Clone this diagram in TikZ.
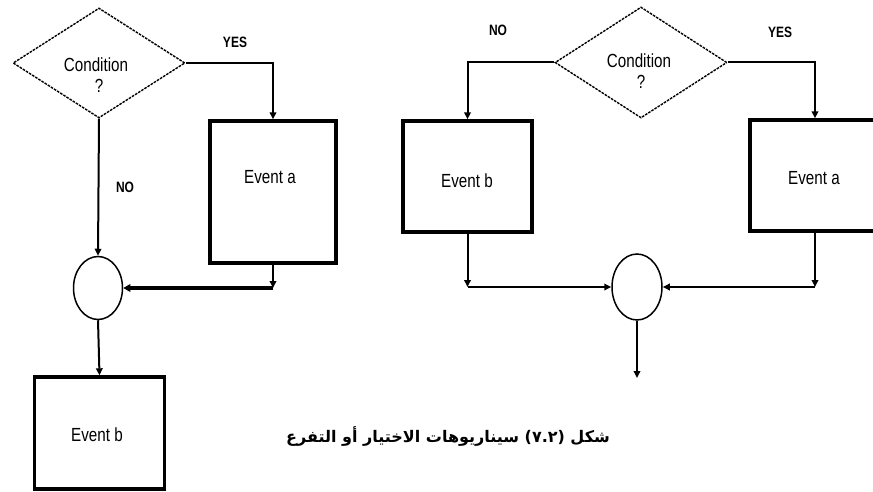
\documentclass[tikz,border=0pt]{standalone}
\usepackage{fontspec}
\setmainfont{Liberation Sans}
\newfontfamily\lblfont[FakeStretch=0.8]{Liberation Sans}
\newfontfamily\arabicfont[Script=Arabic]{DejaVu Sans}
\TeXXeTstate=1
\usetikzlibrary{arrows.meta,shapes.geometric}

\tikzset{
  decision/.style={diamond, draw, line width=1.4pt, dash pattern=on 2.6pt off 1.1pt,
    minimum width=172, minimum height=110, inner sep=0pt},
  eventbox/.style={draw, line width=3.4pt, inner sep=0pt},
  merge/.style={ellipse, draw, line width=1.5pt, inner sep=0pt},
  flow/.style={line width=2pt, -{Triangle[length=7pt,width=6.5pt]}},
  txt/.style={font=\lblfont\fontsize{19}{21}\selectfont, inner sep=0pt},
  lbl/.style={font=\lblfont\bfseries\fontsize{15}{17}\selectfont, inner sep=0pt},
}

\begin{document}
\begin{tikzpicture}[x=1pt, y=-1pt]
  \clip (0,0) rectangle (873,492);
  \fill[white] (0,0) rectangle (873,492);

  % ---- left branch: if / else joining into one path ----
  \node[decision] (d1) at (99,63) {};
  \node[txt] (d1a) at (96,65) {Condition};
  \node[txt] (d1b) at (99,86) {?};

  \node[eventbox, minimum width=126, minimum height=142] (ea1) at (273,192) {};
  \node[txt] (ea1t) at (270,177) {Event a};

  \node[merge, minimum width=49, minimum height=63] (m1) at (98,288) {};

  \node[eventbox, minimum width=130, minimum height=112] (eb1) at (99.5,433) {};
  \node[txt] (eb1t) at (97,435) {Event b};

  \node[lbl] (yes1) at (235,42) {YES};
  \node[lbl] (no1) at (125,187) {NO};

  \coordinate (k1) at (ea1.south |- m1.east);
  \draw[flow] (d1.east) -| (ea1.north);
  \draw[flow] (d1.south) -- (m1.north);
  \draw[flow] (ea1.south) -- (k1);
  \draw[flow, line width=3.8pt, -{Triangle[length=7pt,width=7.5pt]}] (k1) -- (m1.east);
  \draw[flow] (m1.south) -- (eb1.north);

  % ---- right branch: two alternatives merging ----
  \node[decision, minimum height=111] (d2) at (641,62.5) {};
  \node[txt] (d2a) at (639,61) {Condition};
  \node[txt] (d2b) at (641,82) {?};

  \node[eventbox, minimum width=129, minimum height=111] (eb2) at (467.5,176.5) {};
  \node[txt] (eb2t) at (467,181) {Event b};

  \node[eventbox, minimum width=130, minimum height=111] (ea2) at (815,175.5) {};
  \node[txt] (ea2t) at (814,178) {Event a};

  \node[merge, minimum width=50, minimum height=66] (m2) at (637,287) {};

  \node[lbl] (no2) at (498,30) {NO};
  \node[lbl] (yes2) at (780,32) {YES};

  \coordinate (k2) at (eb2.south |- m2.west);
  \coordinate (k3) at (ea2.south |- m2.east);
  \coordinate (out) at (637,378);
  \draw[flow] (d2.west) -| (eb2.north);
  \draw[flow] (d2.east) -| (ea2.north);
  \draw[flow] (eb2.south) -- (k2);
  \draw[flow] (ea2.south) -- (k3);
  \draw[flow, line width=2.6pt] (k2) -- (m2.west);
  \draw[flow, line width=2.6pt] (k3) -- (m2.east);
  \draw[flow] (m2.south) -- (out);

  % ---- caption ----
  \node[inner sep=0pt] (cap) at (448,437)
    {\arabicfont\bfseries\fontsize{16}{18}\selectfont\beginR شكل (\beginL ٧.٢\endL) سيناريوهات الاختيار أو التفرع\endR};
\end{tikzpicture}
\end{document}
